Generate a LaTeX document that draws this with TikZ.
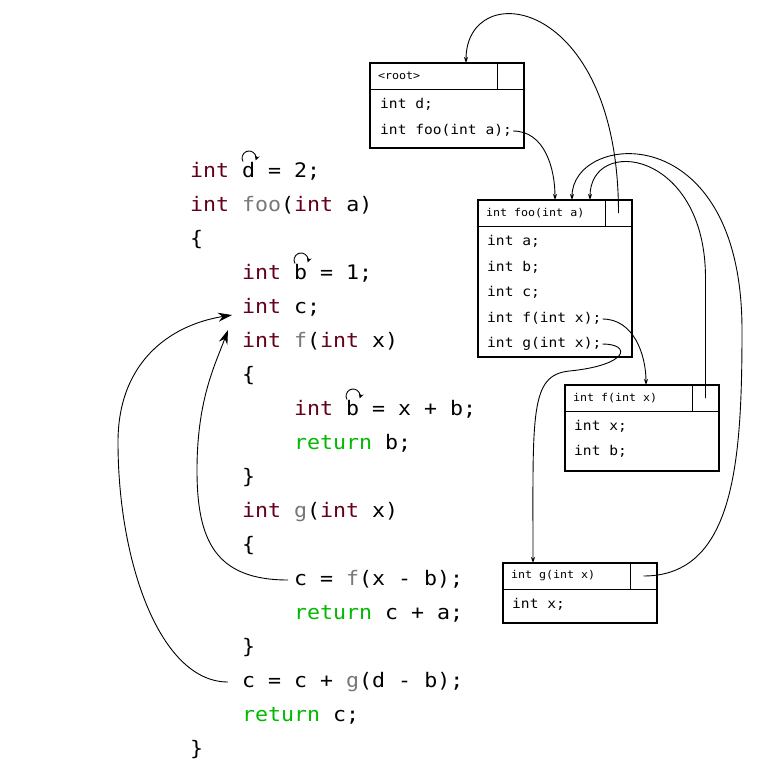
\documentclass[tikz,border=0pt]{standalone}
\usepackage{fontspec}
\usetikzlibrary{arrows.meta, positioning}
\newfontfamily\codefont[FakeStretch=1.08]{DejaVu Sans Mono}
\newcommand{\bigcode}{\codefont\fontsize{20pt}{24pt}\selectfont}
\newcommand{\rowcode}{\codefont\fontsize{13.5pt}{16pt}\selectfont}
\newcommand{\hdrcode}{\codefont\fontsize{10.8pt}{13pt}\selectfont}
\definecolor{kwint}{RGB}{100,0,25}
\definecolor{kwret}{RGB}{0,185,0}
\definecolor{fngray}{RGB}{120,120,120}
\newcommand{\kint}{\textcolor{kwint}{int}}
\newcommand{\kret}{\textcolor{kwret}{return}}
\newcommand{\fnm}[1]{\textcolor{fngray}{#1}}
\newcommand{\hdrbox}[1]{\makebox[111pt][l]{#1}}
\newcommand{\selfloop}[1]{\draw[selfref] ([xshift=53pt,yshift=10.5pt]#1.west) arc[start angle=210, end angle=-20, radius=7pt];}
\tikzset{
    code/.style={font=\bigcode, anchor=west, inner sep=0pt, text height=15pt, text depth=4pt},
    row/.style={font=\rowcode, anchor=west, inner sep=1pt, text height=10pt, text depth=3pt},
    boxframe/.style={draw, line width=2pt, anchor=north west, minimum width=154pt, inner sep=0pt, outer sep=0pt},
    hdr/.style={draw, line width=1pt, anchor=north west, outer sep=0pt, inner xsep=8pt, minimum height=26pt, font=\hdrcode},
    slot/.style={draw, line width=1pt, outer sep=0pt, minimum width=27pt, minimum height=26pt},
    link/.style={line width=0.9pt, -{Stealth[length=6pt,width=4pt]}},
    jump/.style={line width=0.9pt, -{Stealth[length=14pt,width=9pt]}},
    selfref/.style={line width=0.9pt, -{Stealth[length=5pt,width=5pt]}},
}
\begin{document}
\begin{tikzpicture}[x=1pt, y=1pt]
    \useasboundingbox (0,0) rectangle (761,-772);

    % source listing
    \node[code] (l1) at (190,-172) {\kint{} d = 2;};
    \node[code] (l2) at (190,-206) {\kint{} \fnm{foo}(\kint{} a)};
    \node[code] (l3) at (190,-240) {\{};
    \node[code] (l4) at (242,-274) {\kint{} b = 1;};
    \node[code] (l5) at (242,-308) {\kint{} c;};
    \node[code] (l6) at (242,-342) {\kint{} \fnm{f}(\kint{} x)};
    \node[code] (l7) at (242,-376) {\{};
    \node[code] (l8) at (294,-410) {\kint{} b = x + b;};
    \node[code] (l9) at (294,-444) {\kret{} b;};
    \node[code] (l10) at (242,-478) {\}};
    \node[code] (l11) at (242,-512) {\kint{} \fnm{g}(\kint{} x)};
    \node[code] (l12) at (242,-546) {\{};
    \node[code] (l13) at (294,-580) {c = \fnm{f}(x - b);};
    \node[code] (l14) at (294,-614) {\kret{} c + a;};
    \node[code] (l15) at (242,-648) {\}};
    \node[code] (l16) at (242,-682) {c = c + \fnm{g}(d - b);};
    \node[code] (l17) at (242,-716) {\kret{} c;};
    \node[code] (l18) at (190,-750) {\}};

    \selfloop{l1}
    \selfloop{l4}
    \selfloop{l8}

    % scope frames
    \node[boxframe, minimum height=85pt] (root) at (370,-63) {};
    \node[hdr] (rootH) at (root.north west) {\hdrbox{<root>}};
    \node[slot, right=0pt of rootH] (rootS) {};
    \node[row] (rootD) at (379,-105) {int d;};
    \node[row] (rootFoo) at (379,-131) {int foo(int a);};

    \node[boxframe, minimum height=157pt] (foo) at (478,-200) {};
    \node[hdr] (fooH) at (foo.north west) {\hdrbox{int foo(int a)}};
    \node[slot, right=0pt of fooH] (fooS) {};
    \node[row] (fooA) at (486,-242) {int a;};
    \node[row] (fooB) at (486,-268) {int b;};
    \node[row] (fooC) at (486,-293) {int c;};
    \node[row] (fooF) at (486,-319) {int f(int x);};
    \node[row] (fooG) at (486,-344) {int g(int x);};

    \node[boxframe, minimum height=86pt] (f) at (565,-385) {};
    \node[hdr] (fH) at (f.north west) {\hdrbox{int f(int x)}};
    \node[slot, right=0pt of fH] (fS) {};
    \node[row] (fX) at (573,-427) {int x;};
    \node[row] (fB) at (573,-452) {int b;};

    \node[boxframe, minimum height=60pt] (g) at (503,-563) {};
    \node[hdr] (gH) at (g.north west) {\hdrbox{int g(int x)}};
    \node[slot, right=0pt of gH] (gS) {};
    \node[row] (gX) at (511,-605) {int x;};

    % links between frames
    \draw[link] (rootFoo.east) to[out=0, in=90] ([xshift=13.5pt]fooH.north);
    \draw[link] (fooS.center) .. controls +(0,218) and +(0,87) .. ([xshift=32.5pt]rootH.north);
    \draw[link] (fooF.east) to[out=0, in=90] ([xshift=17.5pt]fH.north);
    \draw[link] (fooG.east) .. controls +(29,0) and +(60,6) .. ++(-33,-27)
        .. controls +(-40,-4) and +(0,150) .. ([xshift=-33.5pt]gH.north);
    \draw[link] (fS.center) -- ++(0,120) .. controls +(0,128) and +(0,65) .. ([xshift=48.5pt]fooH.north);
    \coordinate (rim) at (742,-330);
    \draw[link] (gS.center) .. controls +(91.5,0) and +(0,-130) .. (rim)
        .. controls +(0,215) and +(0,68) .. ([xshift=30.5pt]fooH.north);

    % jumps in the listing
    \draw[jump] ([xshift=-6pt]l13.west) .. controls +(-73,0) and +(0,-70) .. ++(-91,110)
        .. controls +(0,70) and +(-13,-35) .. ([xshift=-14pt,yshift=12pt]l6.west);
    \draw[jump] ([xshift=-14pt]l16.west) .. controls +(-68,0) and +(0,-120) .. ++(-110,240)
        .. controls +(0,80) and +(-62,-10) .. ([xshift=-10pt,yshift=-7pt]l5.west);
\end{tikzpicture}
\end{document}
